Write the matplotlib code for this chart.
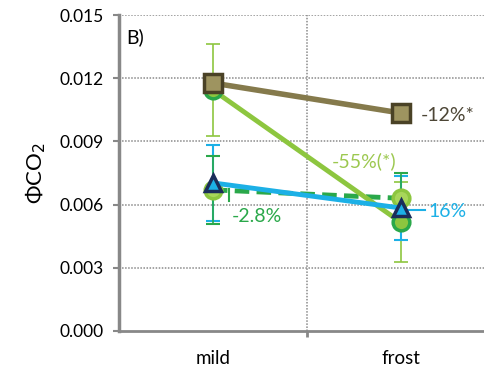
import matplotlib
matplotlib.use("Agg")
import matplotlib.pyplot as plt

plt.rcParams['font.family'] = ['Lato', 'DejaVu Sans']

categories = ["mild", "frost"]
xpos = [0.5, 1.5]

brown_vals = [0.01177, 0.01035]
brown_err = [0.0003, 0.0004]
light_vals = [0.01144, 0.00517]
light_err = [0.0022, 0.0019]
dark_vals = [0.0067, 0.0063]
dark_err = [0.0016, 0.0012]
blue_vals = [0.00703, 0.00584]
blue_err = [0.0018, 0.0015]

yticks = [0.000, 0.003, 0.006, 0.009, 0.012, 0.015]

fig = plt.figure(figsize=(4.84, 3.8), dpi=100)
ax = fig.add_axes([0.246, 0.129, 0.754, 0.8315])

# grid
for y in yticks[1:]:
    ax.axhline(y, color='#8a8a8a', ls=(0, (1, 1)), lw=1.1, zorder=0)
ax.axvline(1.0, color='#8a8a8a', ls=(0, (1, 1)), lw=1.1, zorder=0)

brown = '#857a4c'
brown_face = '#9e9460'
brown_edge = '#4a4226'
light = '#8dc63f'
dgreen = '#2aa84a'
blue = '#1cb0e6'
navy = '#1b2d5a'

# error bars
ax.errorbar(xpos, light_vals, yerr=light_err, fmt='none', ecolor=light, elinewidth=1.2, capsize=5, capthick=1.2, zorder=2)
ax.errorbar(xpos, blue_vals, yerr=blue_err, fmt='none', ecolor=blue, elinewidth=1.5, capsize=5, capthick=1.5, zorder=2)
ax.errorbar(xpos, dark_vals, yerr=dark_err, fmt='none', ecolor=dgreen, elinewidth=1.2, capsize=5, capthick=1.5, zorder=2)
ax.errorbar(xpos, brown_vals, yerr=brown_err, fmt='none', ecolor=brown_edge, elinewidth=1.2, capsize=5, capthick=1.5, zorder=2)

# lines
ax.plot(xpos, dark_vals, color=dgreen, lw=3.5, ls=(0, (3, 1.5)), marker='o', ms=12,
        mfc='#a8d65a', mec=light, mew=2.5, zorder=3)
ax.plot(xpos, light_vals, color=light, lw=3.5, marker='o', ms=12,
        mfc=light, mec=dgreen, mew=2.5, zorder=4)
ax.plot(xpos, blue_vals, color=blue, lw=3.5, marker='^', ms=12,
        mfc=blue, mec=navy, mew=2.5, zorder=5)
ax.plot(xpos, brown_vals, color=brown, lw=4, marker='s', ms=13,
        mfc=brown_face, mec=brown_edge, mew=2.5, zorder=6)

# annotations
ax.text(1.61, 0.01022, "-12%*", color='#4d4636', fontsize=14, va='center', ha='left')
ax.text(1.48, 0.00805, "-55%(*)", color='#9cc84f', fontsize=14, va='center', ha='right')
ax.text(0.6, 0.00545, "-2.8%", color=dgreen, fontsize=14, va='center', ha='left')
ax.plot([0.585, 0.585], [0.00615, 0.00675], color=dgreen, lw=1.5, zorder=3)
ax.plot([1.53, 1.63], [0.00575, 0.00575], color=blue, lw=1.5, zorder=3)
ax.text(1.65, 0.00568, "16%", color=blue, fontsize=14, va='center', ha='left')
ax.text(0.04, 0.01395, "B)", color='black', fontsize=14, va='center', ha='left')

ax.set_xlim(0, 1.945)
ax.set_ylim(0, 0.015)
ax.set_yticks(yticks)
ax.set_yticklabels([f"{v:.3f}" for v in yticks], fontsize=12.5)
ax.set_xticks(xpos)
ax.set_xticklabels(categories, fontsize=13.5)
ax.set_xticks([1.0], minor=True)
ax.tick_params(axis='x', which='major', length=0, pad=14)
ax.tick_params(axis='x', which='minor', length=4, width=2, color='#888888', direction='out')
ax.tick_params(axis='y', length=4, width=1.5, color='#888888', direction='out', pad=7)

for s in ['top', 'right']:
    ax.spines[s].set_visible(False)
ax.spines['left'].set_color('#888888')
ax.spines['left'].set_linewidth(2.5)
ax.spines['bottom'].set_color('#888888')
ax.spines['bottom'].set_linewidth(2)

ax.set_ylabel("ΦCO$_2$", fontsize=16, labelpad=8)

fig.savefig("out.png", dpi=100)
